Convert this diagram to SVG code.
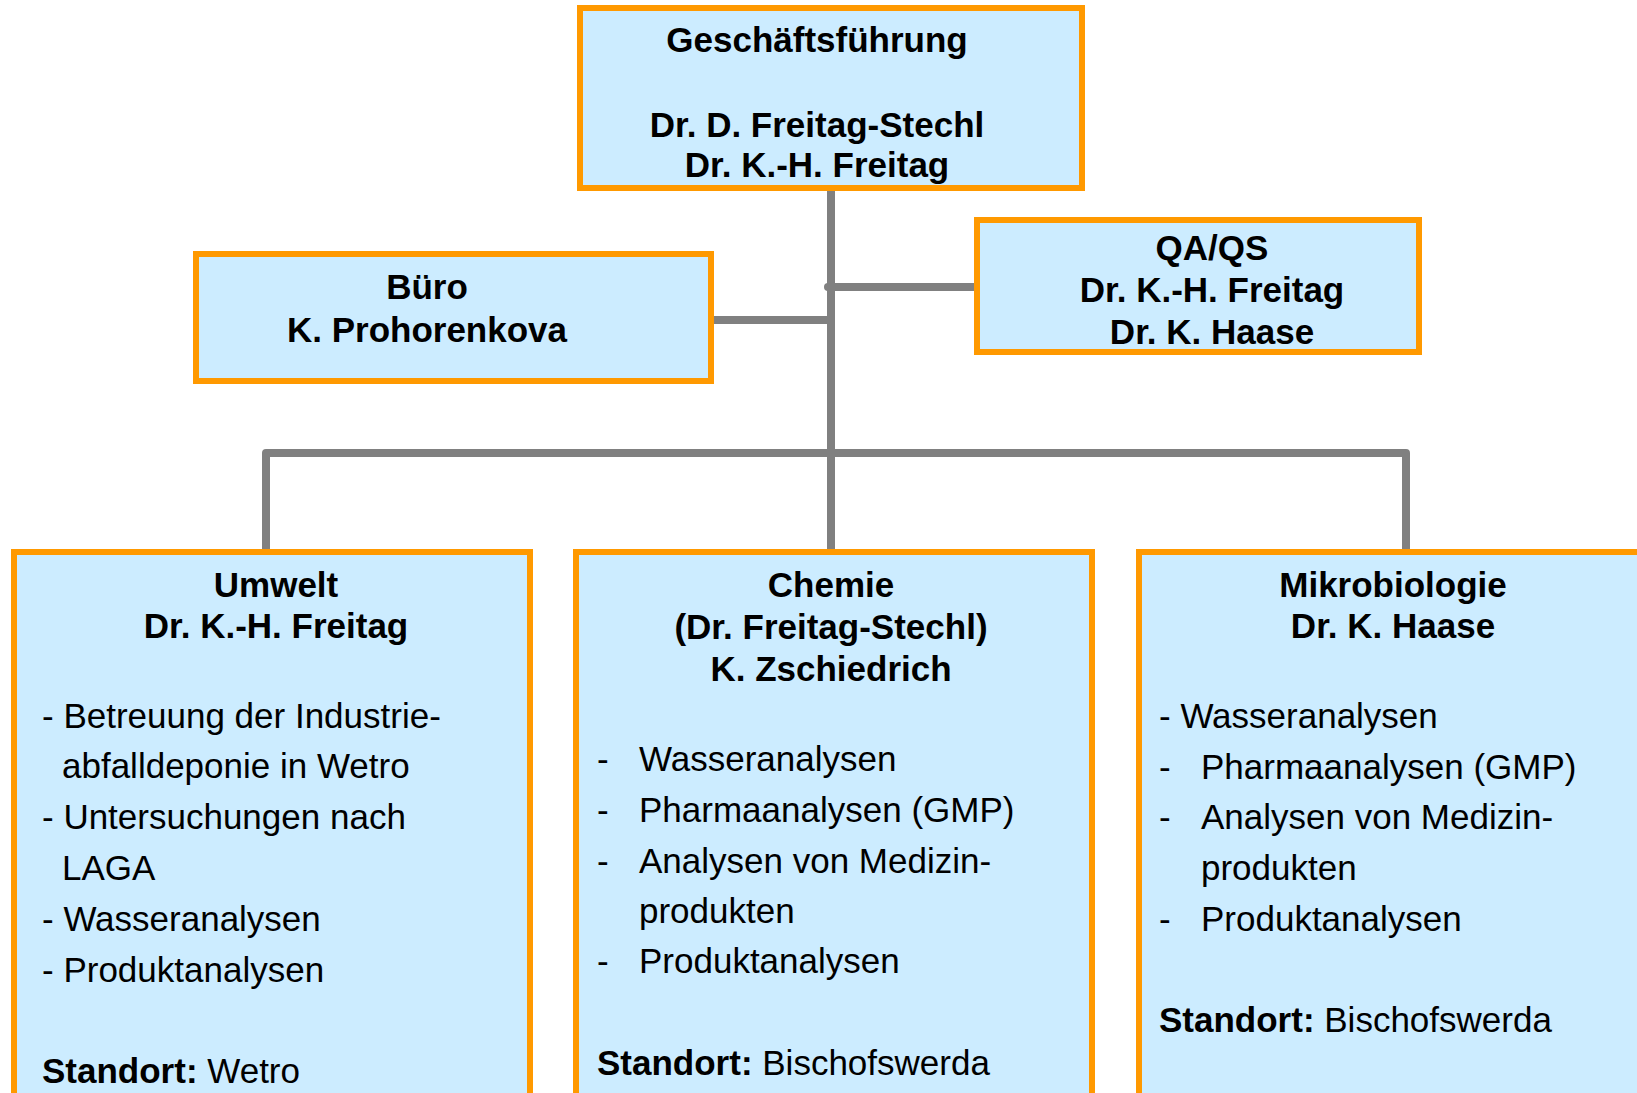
<svg xmlns="http://www.w3.org/2000/svg" width="1637" height="1093" viewBox="0 0 1637 1093">
<style>
.box{fill:#CCECFF;stroke:#FF9900;stroke-width:6}
.conn{fill:none;stroke:#808080;stroke-width:8;stroke-linejoin:round}
text{font-family:"Liberation Sans",Arial,sans-serif;font-size:35px;fill:#000}
.b{font-weight:bold}
.c{text-anchor:middle}
</style>
<rect width="1637" height="1093" fill="#FFFFFF"/>
<g id="connectors">
<path class="conn" d="M831,191 V549"/>
<path class="conn" d="M713,320 H831"/>
<path class="conn" d="M828,287 H974" stroke-linecap="round"/>
<path class="conn" d="M266,549 V453 H1406 V549"/>
</g>
<g id="geschaeftsfuehrung">
<rect class="box" x="580" y="8" width="502" height="180"/>
<text class="b c" x="817" y="52">Geschäftsführung</text>
<text class="b c" x="817" y="137">Dr. D. Freitag-Stechl</text>
<text class="b c" x="817" y="177">Dr. K.-H. Freitag</text>
</g>
<g id="buero">
<rect class="box" x="196" y="254" width="515" height="127"/>
<text class="b c" x="427" y="299">Büro</text>
<text class="b c" x="427" y="342">K. Prohorenkova</text>
</g>
<g id="qaqs">
<rect class="box" x="977" y="220" width="442" height="132"/>
<text class="b c" x="1212" y="260">QA/QS</text>
<text class="b c" x="1212" y="302">Dr. K.-H. Freitag</text>
<text class="b c" x="1212" y="344">Dr. K. Haase</text>
</g>
<g id="umwelt">
<rect class="box" x="14" y="552" width="516" height="600"/>
<text class="b c" x="276" y="597">Umwelt</text>
<text class="b c" x="276" y="638">Dr. K.-H. Freitag</text>
<text x="42" y="728">- Betreuung der Industrie-</text>
<text x="62" y="778">abfalldeponie in Wetro</text>
<text x="42" y="829">- Untersuchungen nach</text>
<text x="62" y="880">LAGA</text>
<text x="42" y="931">- Wasseranalysen</text>
<text x="42" y="982">- Produktanalysen</text>
<text x="42" y="1083"><tspan class="b">Standort:</tspan> Wetro</text>
</g>
<g id="chemie">
<rect class="box" x="576" y="552" width="516" height="600"/>
<text class="b c" x="831" y="597">Chemie</text>
<text class="b c" x="831" y="639">(Dr. Freitag-Stechl)</text>
<text class="b c" x="831" y="681">K. Zschiedrich</text>
<text x="597" y="771">-</text><text x="639" y="771">Wasseranalysen</text>
<text x="597" y="822">-</text><text x="639" y="822">Pharmaanalysen (GMP)</text>
<text x="597" y="873">-</text><text x="639" y="873">Analysen von Medizin-</text>
<text x="639" y="923">produkten</text>
<text x="597" y="973">-</text><text x="639" y="973">Produktanalysen</text>
<text x="597" y="1075"><tspan class="b">Standort:</tspan> Bischofswerda</text>
</g>
<g id="mikrobiologie">
<rect class="box" x="1139" y="552" width="516" height="600"/>
<text class="b c" x="1393" y="597">Mikrobiologie</text>
<text class="b c" x="1393" y="638">Dr. K. Haase</text>
<text x="1159" y="728">- Wasseranalysen</text>
<text x="1159" y="779">-</text><text x="1201" y="779">Pharmaanalysen (GMP)</text>
<text x="1159" y="829">-</text><text x="1201" y="829">Analysen von Medizin-</text>
<text x="1201" y="880">produkten</text>
<text x="1159" y="931">-</text><text x="1201" y="931">Produktanalysen</text>
<text x="1159" y="1032"><tspan class="b">Standort:</tspan> Bischofswerda</text>
</g>
</svg>
